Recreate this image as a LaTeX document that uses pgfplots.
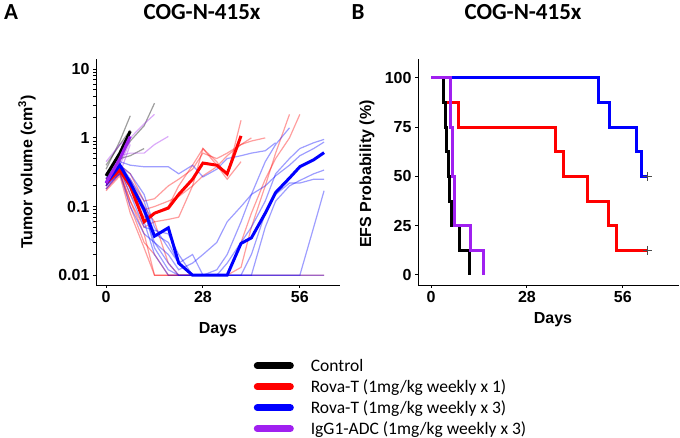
\documentclass[border=0pt]{standalone}
\usepackage{pgfplots}
\pgfplotsset{compat=1.18}
\usepackage{fontspec}
\setmainfont{Liberation Sans}
\newfontfamily\calibri{Carlito}
\definecolor{rpurple}{HTML}{A020F0}
\pgfplotsset{
  myax/.style={scale only axis, axis lines*=left,
    axis line style={line width=0.9pt,-}, x axis line style={-}, y axis line style={-},
    tick style={line width=0.9pt, black}, tick align=outside, major tick length=3pt,
    minor tick num=0,
    ticklabel style={font=\bfseries\fontsize{16}{16}\selectfont},
    xtick={0,28,56}, xticklabels={0,28,56},
    clip=false},
  thin/.style={line width=1.2pt, opacity=0.38, forget plot},
  thick/.style={line width=3pt, forget plot},
}
\begin{document}
\begin{tikzpicture}
\path[use as bounding box] (0pt,0pt) rectangle (680pt,438pt);
% titles
\node[font=\calibri\bfseries\fontsize{23}{23}\selectfont] at (11pt,426pt) {A};
\node[font=\calibri\bfseries\fontsize{23}{23}\selectfont] at (202pt,426pt) {COG-N-415x};
\node[font=\calibri\bfseries\fontsize{23}{23}\selectfont] at (358pt,426pt) {B};
\node[font=\calibri\bfseries\fontsize{23}{23}\selectfont] at (523pt,426pt) {COG-N-415x};
% axis labels
\node[font=\bfseries\fontsize{16}{16}\selectfont, rotate=90] at (27pt,266pt) {Tumor volume (cm\textsuperscript{3})};
\node[font=\bfseries\fontsize{16}{16}\selectfont, rotate=90] at (367pt,264pt) {EFS Probability (\%)};
\node[font=\bfseries\fontsize{16}{16}\selectfont] at (218pt,108pt) {Days};
\node[font=\bfseries\fontsize{16}{16}\selectfont] at (553pt,118pt) {Days};

\begin{axis}[myax, at={(96pt,153pt)}, anchor=south west, width=244pt, height=226pt,
  xmin=-2.9, xmax=67.6, ymode=log, ymin=0.0072, ymax=14.1,
  ytick={0.01,0.1,1,10}, yticklabels={0.01,0.1,1,10},
  legend style={at={(0.646,-0.325)}, anchor=north west, draw=none, fill=none,
    font=\calibri\fontsize{17.5}{17.5}\selectfont, row sep=0pt, inner sep=0pt,
    nodes={inner sep=0pt, text height=13pt, text depth=8pt},
    /tikz/every odd column/.append style={column sep=17pt}},
  legend cell align=left,
  legend image code/.code={\draw[#1, line width=7pt, line cap=round] (0pt,0.35em) -- (33pt,0.35em);},
]
% Control individual
\addplot[black, thin] coordinates {(0,0.35)(4,0.9)(7,2.1)};
\addplot[black, thin] coordinates {(0,0.30)(4,0.55)(7,0.9)(11,1.5)(14,3.2)};
\addplot[black, thin] coordinates {(0,0.25)(4,0.5)(7,0.55)(11,0.7)};
\addplot[black, thin] coordinates {(0,0.40)(4,0.8)(7,1.3)};
\addplot[black, thin] coordinates {(0,0.20)(4,0.45)(7,1.0)};
% IgG1 individual
\addplot[rpurple, thin] coordinates {(0,0.45)(4,0.8)(7,1.0)(11,1.6)(14,2.2)};
\addplot[rpurple, thin] coordinates {(0,0.30)(4,0.55)(7,0.6)(11,0.6)(14,0.8)(18,1.05)};
\addplot[rpurple, thin] coordinates {(0,0.20)(4,0.4)(7,0.9)};
\addplot[rpurple, thin] coordinates {(0,0.25)(4,0.6)(7,1.2)};
\addplot[rpurple, thin] coordinates {(0,0.18)(4,0.3)(7,0.8)};
% Rova-T x1 individual
\addplot[red, thin] coordinates {(0,0.2)(4,0.35)(7,0.15)(11,0.07)(14,0.08)(18,0.1)(21,0.2)(25,0.4)(28,0.7)(32,0.45)(35,0.28)(39,1.8)};
\addplot[red, thin] coordinates {(0,0.25)(4,0.4)(7,0.3)(11,0.12)(14,0.13)(18,0.2)(21,0.25)(25,0.35)(28,0.6)(32,0.5)(35,0.6)(39,0.8)(42,0.9)(46,1.0)};
\addplot[red, thin] coordinates {(0,0.18)(4,0.3)(7,0.25)(11,0.1)(14,0.06)(18,0.065)(21,0.07)(25,0.2)(28,0.7)(32,0.4)(35,0.25)(39,0.45)};
\addplot[red, thin] coordinates {(0,0.22)(4,0.3)(7,0.12)(11,0.04)(14,0.01)(18,0.01)(21,0.01)(25,0.01)(28,0.01)(32,0.01)(35,0.01)(39,0.013)(42,0.05)(46,0.2)(49,0.6)(53,2.2)};
\addplot[red, thin] coordinates {(0,0.2)(4,0.32)(7,0.1)(11,0.03)(14,0.02)(18,0.01)(21,0.01)(25,0.01)(28,0.01)(32,0.01)(35,0.01)(39,0.03)(42,0.08)(46,0.25)(49,0.5)(53,1.0)(56,2.2)};
\addplot[red, thin] coordinates {(0,0.17)(4,0.28)(7,0.08)(11,0.025)(14,0.01)(18,0.01)(21,0.01)(25,0.01)(28,0.01)(32,0.01)(35,0.01)(39,0.01)(42,0.01)(46,0.01)(49,0.01)(53,0.01)(56,0.01)(60,0.01)(63,0.01)};
\addplot[red, thin] coordinates {(0,0.22)(4,0.33)(7,0.12)(11,0.05)(14,0.06)(18,0.015)(21,0.01)(25,0.01)(28,0.01)};
\addplot[red, thin] coordinates {(0,0.25)(4,0.38)(7,0.2)(11,0.09)(14,0.1)(18,0.12)(21,0.14)(25,0.2)(28,0.28)(32,0.38)(35,0.55)(39,0.8)(42,1.0)};
% Rova-T x3 individual
\addplot[blue, thin] coordinates {(0,0.26)(4,0.45)(7,0.4)(11,0.38)(14,0.38)(18,0.38)(21,0.3)(25,0.4)(28,0.27)(32,0.35)(35,0.5)(39,0.55)(42,0.6)(46,0.65)(49,0.85)};
\addplot[blue, thin] coordinates {(0,0.2)(4,0.35)(7,0.15)(11,0.05)(14,0.045)(18,0.04)(21,0.02)(25,0.01)(28,0.01)(32,0.012)(35,0.02)(39,0.06)(42,0.15)(46,0.45)(49,0.8)(53,1.4)};
\addplot[blue, thin] coordinates {(0,0.22)(4,0.38)(7,0.2)(11,0.08)(14,0.03)(18,0.015)(21,0.01)(25,0.01)(28,0.01)(32,0.01)(35,0.015)(39,0.03)(42,0.05)(46,0.12)(49,0.3)(53,0.5)(56,0.7)(60,0.85)(63,0.95)};
\addplot[blue, thin] coordinates {(0,0.2)(4,0.3)(7,0.1)(11,0.04)(14,0.03)(18,0.02)(21,0.012)(25,0.015)(28,0.02)(32,0.03)(35,0.06)(39,0.1)(42,0.15)(46,0.2)(49,0.28)(53,0.4)(56,0.55)(60,0.7)(63,0.87)};
\addplot[blue, thin] coordinates {(0,0.25)(4,0.42)(7,0.25)(11,0.12)(14,0.04)(18,0.03)(21,0.015)(25,0.01)(28,0.01)(32,0.01)(35,0.01)(39,0.01)(42,0.02)(46,0.08)(49,0.15)(53,0.22)(56,0.22)(60,0.25)(63,0.25)};
\addplot[blue, thin] coordinates {(0,0.18)(4,0.32)(7,0.2)(11,0.09)(14,0.025)(18,0.012)(21,0.01)(25,0.01)(28,0.01)(32,0.01)(35,0.01)(39,0.01)(42,0.01)(46,0.05)(49,0.12)(53,0.2)(56,0.24)(60,0.3)(63,0.34)};
\addplot[blue, thin] coordinates {(0,0.21)(4,0.36)(7,0.18)(11,0.06)(14,0.02)(18,0.01)(21,0.01)(25,0.01)(28,0.01)(32,0.01)(35,0.01)(39,0.01)(42,0.01)(46,0.01)(49,0.01)(53,0.01)(56,0.01)(60,0.05)(63,0.17)};
\addplot[blue, thin] coordinates {(0,0.23)(4,0.4)(7,0.3)(11,0.15)(14,0.05)(18,0.025)(21,0.015)(25,0.02)(28,0.01)(32,0.01)(35,0.01)(39,0.01)(42,0.01)(46,0.01)(49,0.01)(53,0.01)(56,0.01)(60,0.01)(63,0.01)};
% group medians
\addplot[red, thick] coordinates {(0,0.22)(4,0.34)(7,0.2)(11,0.06)(14,0.08)(18,0.095)(21,0.15)(25,0.25)(28,0.43)(32,0.40)(35,0.30)(39,1.07)};
\addplot[blue, thick] coordinates {(0,0.22)(4,0.40)(7,0.22)(11,0.09)(14,0.037)(18,0.049)(21,0.015)(25,0.01)(28,0.01)(32,0.01)(35,0.01)(39,0.029)(42,0.035)(46,0.08)(49,0.16)(53,0.26)(56,0.38)(60,0.48)(63,0.61)};
\addplot[black, thick] coordinates {(0,0.28)(4,0.6)(7,1.25)};
\addplot[rpurple, thick] coordinates {(0,0.22)(4,0.5)(7,1.05)};
% legend
\addlegendimage{black}\addlegendentry{Control}
\addlegendimage{red}\addlegendentry{Rova-T (1mg/kg weekly x 1)}
\addlegendimage{blue}\addlegendentry{Rova-T (1mg/kg weekly x 3)}
\addlegendimage{rpurple}\addlegendentry{IgG1-ADC (1mg/kg weekly x 3)}
\end{axis}

\begin{axis}[myax, at={(418pt,153pt)}, anchor=south west, width=261pt, height=226pt,
  xmin=-3.8, xmax=72.4, ymin=-5.1, ymax=109.6,
  ytick={0,25,50,75,100}, yticklabels={0,25,50,75,100}]
\addplot[blue, line width=3pt, const plot] coordinates {(0,100)(48.8,87.5)(52.0,75)(60.0,62.5)(61.4,50)(63.1,50)};
\addplot[red, line width=3pt, const plot] coordinates {(0,100)(3.6,87.5)(8.0,75)(36.2,62.5)(38.8,50)(45.6,37.5)(51.7,25)(54.1,12.5)(63.1,12.5)};
\addplot[black, line width=3pt, const plot] coordinates {(0,100)(3.6,87.5)(4.2,75)(4.6,62.5)(5.1,50)(5.5,37.5)(6.1,25)(8.2,12.5)(11.1,0)};
\addplot[rpurple, line width=3pt, const plot] coordinates {(0,100)(5.6,75)(6.3,50)(7.0,25)(11.6,12.5)(15.2,0)};
\addplot[only marks, mark=+, mark size=4.5pt, black!70, line width=0.8pt] coordinates {(63.1,50)(63.1,12.5)};
\end{axis}
\end{tikzpicture}
\end{document}
